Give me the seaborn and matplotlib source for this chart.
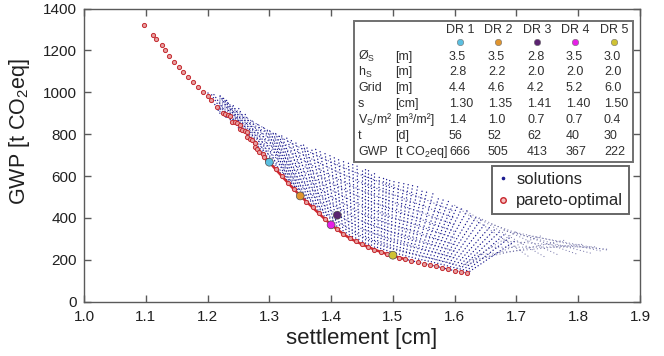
import numpy as np
import pandas as pd
import matplotlib
matplotlib.use("Agg")
import matplotlib.pyplot as plt
from matplotlib.patches import Rectangle
from matplotlib.lines import Line2D
import seaborn as sns

# ---------------- data ----------------
# pareto-optimal front (settlement [cm], GWP [t CO2eq])
front_x = [1.097, 1.112, 1.117, 1.126, 1.131, 1.138, 1.145, 1.153, 1.161, 1.169,
           1.177, 1.185, 1.193, 1.200, 1.206, 1.215,
           1.225, 1.229, 1.233, 1.237, 1.240, 1.244, 1.248, 1.252,
           1.252, 1.256, 1.260, 1.264, 1.264, 1.268, 1.272, 1.277,
           1.276, 1.280, 1.284, 1.289, 1.292, 1.296,
           1.30, 1.31, 1.32, 1.33, 1.34, 1.35, 1.36, 1.37, 1.38, 1.39,
           1.40, 1.41, 1.42, 1.43, 1.44, 1.45, 1.46, 1.47, 1.48, 1.49,
           1.50, 1.51, 1.52, 1.53, 1.54, 1.55, 1.56, 1.57, 1.58, 1.59,
           1.60, 1.61, 1.62]
front_y = [1320, 1273, 1252, 1225, 1201, 1175, 1146, 1122, 1098, 1074,
           1050, 1026, 1002, 982, 963, 931,
           900, 896, 891, 886, 860, 856, 851, 844,
           823, 819, 814, 808, 785, 778, 770, 760,
           738, 728, 716, 703, 690, 678,
           666, 633, 600, 568, 536, 506, 478, 450, 422, 394,
           368, 345, 323, 303, 288, 274, 261, 249, 238, 228,
           219, 211, 203, 196, 188, 182, 176, 169, 162, 154,
           148, 142, 136]

# fan of solutions: start point on the front, end point on the outer envelope
ray_x0 = [1.22, 1.23, 1.24, 1.25, 1.26, 1.27, 1.28, 1.29, 1.30, 1.31, 1.32, 1.33,
          1.34, 1.35, 1.36, 1.37, 1.38, 1.39, 1.40, 1.41, 1.42, 1.43, 1.44, 1.45,
          1.46, 1.47, 1.48, 1.49, 1.50, 1.51, 1.52, 1.53, 1.54, 1.55, 1.56, 1.57,
          1.58, 1.59, 1.60, 1.61, 1.62]
ray_y0 = [900, 880, 855, 830, 808, 770, 725, 695, 666, 633, 600, 568,
          536, 506, 478, 450, 422, 394, 368, 345, 323, 303, 288, 274,
          261, 249, 238, 228, 219, 211, 203, 196, 188, 182, 176, 169,
          162, 154, 148, 142, 136]
ray_x1 = [1.200, 1.205, 1.210, 1.220, 1.225, 1.230, 1.240, 1.250, 1.260, 1.270, 1.280, 1.290,
          1.300, 1.310, 1.320, 1.335, 1.350, 1.360, 1.375, 1.390, 1.405, 1.420, 1.435, 1.450,
          1.460, 1.470, 1.485, 1.495, 1.510, 1.525, 1.540, 1.555, 1.575, 1.590, 1.605, 1.620,
          1.635, 1.650, 1.665, 1.680, 1.700]
ray_y1 = [1000, 995, 990, 985, 975, 965, 945, 925, 900, 875, 855, 835,
          820, 805, 792, 775, 760, 745, 728, 710, 690, 672, 655, 640,
          628, 615, 600, 590, 580, 565, 550, 530, 505, 480, 460, 435,
          405, 375, 345, 320, 295]

# further solution rays in between
ray2_x0 = [1.335, 1.345, 1.355, 1.365, 1.375, 1.385, 1.395, 1.405, 1.415, 1.425,
           1.435, 1.445, 1.455, 1.465, 1.475, 1.485, 1.495, 1.505, 1.515, 1.525,
           1.535, 1.545, 1.555, 1.565, 1.575, 1.585, 1.595, 1.605, 1.615]
ray2_y0 = [552, 521, 492, 464, 436, 408, 381, 356, 334, 313,
           295, 281, 267, 255, 243, 233, 223, 215, 207, 199,
           192, 185, 179, 172, 165, 158, 151, 145, 139]
ray2_x1 = [1.295, 1.305, 1.315, 1.328, 1.342, 1.355, 1.368, 1.382, 1.398, 1.412,
           1.428, 1.442, 1.455, 1.465, 1.478, 1.490, 1.502, 1.518, 1.532, 1.548,
           1.565, 1.582, 1.598, 1.612, 1.628, 1.642, 1.658, 1.672, 1.690]
ray2_y1 = [828, 812, 798, 783, 768, 752, 736, 719, 700, 681,
           663, 647, 634, 621, 607, 595, 585, 572, 557, 540,
           518, 492, 470, 448, 420, 390, 360, 332, 308]

# curves running across the fan, roughly parallel to the front
band_x = [1.22, 1.26, 1.30, 1.35, 1.40, 1.45, 1.50, 1.55, 1.60]
band_y = [
    [909, 816, 682, 531, 401, 311, 256, 216, 179],
    [918, 824, 699, 557, 434, 347, 292, 251, 210],
    [927, 833, 715, 582, 468, 384, 329, 285, 242],
    [936, 841, 732, 608, 501, 420, 365, 319, 273],
    [945, 849, 748, 633, 534, 457, 402, 354, 304],
    [954, 857, 764, 658, 567, 494, 439, 388, 335],
    [963, 865, 781, 684, 600, 530, 475, 422, 366],
    [972, 874, 797, 709, 634, 567, 512, 456, 398],
    [981, 882, 814, 735, 667, 603, 548, 491, 429],
]

# sparse outer part of the solution cloud
far_x0 = [1.60, 1.62, 1.64, 1.66, 1.68, 1.70, 1.72,
          1.60, 1.62, 1.63, 1.64, 1.66, 1.68]
far_y0 = [460, 430, 400, 370, 340, 330, 315,
          150, 175, 200, 225, 260, 290]
far_x1 = [1.72, 1.745, 1.77, 1.80, 1.82, 1.84, 1.85,
          1.70, 1.74, 1.78, 1.81, 1.83, 1.85]
far_y1 = [215, 215, 220, 225, 232, 240, 245,
          335, 315, 295, 275, 262, 250]

# selected design recommendations
dr_names = ["DR 1", "DR 2", "DR 3", "DR 4", "DR 5"]
dr_x = [1.30, 1.35, 1.41, 1.40, 1.50]
dr_y = [666, 505, 413, 367, 222]
dr_colors = ["#5bbfe0", "#e0952f", "#5b2371", "#e61ee6", "#cfc233"]

row_labels = ["Ø$_\\mathregular{S}$", "h$_\\mathregular{S}$", "Grid", "s",
              "V$_\\mathregular{S}$/m²", "t", "GWP"]
row_units = ["[m]", "[m]", "[m]", "[cm]", "[m³/m²]", "[d]", "[t CO$_\\mathregular{2}$eq]"]
table_vals = [
    ["3.5", "3.5", "2.8", "3.5", "3.0"],
    ["2.8", "2.2", "2.0", "2.0", "2.0"],
    ["4.4", "4.6", "4.2", "5.2", "6.0"],
    ["1.30", "1.35", "1.41", "1.40", "1.50"],
    ["1.4", "1.0", "0.7", "0.7", "0.4"],
    ["56", "52", "62", "40", "30"],
    ["666", "505", "413", "367", "222"],
]

x_ticks = [1.0, 1.1, 1.2, 1.3, 1.4, 1.5, 1.6, 1.7, 1.8, 1.9]
y_ticks = [0, 200, 400, 600, 800, 1000, 1200, 1400]

# ---------------- style ----------------
sns.set_style("ticks")
plt.rcParams["font.family"] = ["Liberation Sans", "DejaVu Sans"]
plt.rcParams["mathtext.fontset"] = "custom"
plt.rcParams["mathtext.rm"] = "Liberation Sans"

W, H = 664, 356
fig = plt.figure(figsize=(W / 100, H / 100), dpi=100)
ax = fig.add_axes([84 / W, 1 - 301.7 / H, (640 - 84) / W, (301.7 - 8.5) / H])

spine_c = "#5a5a5a"
for s in ax.spines.values():
    s.set_color(spine_c)
    s.set_linewidth(1.0)

ray_c = "#1c1c90"
for xs0, ys0, xs1, ys1 in [(ray_x0, ray_y0, ray_x1, ray_y1),
                           (ray2_x0, ray2_y0, ray2_x1, ray2_y1)]:
    for x0, y0, x1, y1 in zip(xs0, ys0, xs1, ys1):
        ax.plot([x0, x1], [y0, y1], color=ray_c, lw=1.0, ls=(0, (0.1, 2.3)),
                dash_capstyle="round", alpha=1.0, zorder=2)
for by in band_y:
    ax.plot(band_x, by, color=ray_c, lw=0.9, ls=(0, (0.1, 2.5)),
            dash_capstyle="round", alpha=0.75, zorder=2)
for x0, y0, x1, y1 in zip(far_x0, far_y0, far_x1, far_y1):
    ax.plot([x0, x1], [y0, y1], color="#5a5a98", lw=0.85, ls=(0, (0.1, 2.8)),
            dash_capstyle="round", alpha=0.8, zorder=2)

front = pd.DataFrame({"settlement": front_x, "GWP": front_y})
dense = front[(front.settlement >= 1.29) & (front.settlement <= 1.52)]
ax.plot(dense.settlement, dense.GWP, color="#d02a30", lw=1.8, zorder=3)
sns.scatterplot(data=front, x="settlement", y="GWP", ax=ax, marker="o", s=9,
                color="#e8a0a0", edgecolor="#c42a30", linewidth=0.7, zorder=4)

dr = pd.DataFrame({"settlement": dr_x, "GWP": dr_y, "DR": dr_names})
sns.scatterplot(data=dr, x="settlement", y="GWP", hue="DR", palette=dr_colors,
                ax=ax, s=32, edgecolor="#505050", linewidth=0.5, zorder=5, legend=False)

ax.set_xlim(1.0, 1.9)
ax.set_ylim(0, 1400)
ax.set_xticks(x_ticks)
ax.set_xticklabels([f"{v:.1f}" for v in x_ticks])
ax.set_yticks(y_ticks)
ax.tick_params(direction="in", length=5, width=1.0, color=spine_c,
               top=True, right=True, labelsize=11, labelcolor="#202020")
ax.tick_params(axis="x", pad=6)
ax.tick_params(axis="y", pad=5)
ax.set_xlabel("settlement [cm]", fontsize=16, color="#202020", labelpad=3)
ax.set_ylabel("GWP [t CO$_\\mathregular{2}$eq]", fontsize=15.5, color="#202020")
ax.yaxis.set_label_coords(-0.094, 0.58)

# legend
handles = [Line2D([], [], ls="none", marker="o", ms=1.6, color=ray_c),
           Line2D([], [], ls="none", marker="o", ms=4, mfc="#f5c0c0", mec="#c8262c", mew=1.0)]
leg = ax.legend(handles, ["solutions", "pareto-optimal"], loc="upper left",
                bbox_to_anchor=(492 / W, 1 - 166 / H), bbox_transform=fig.transFigure,
                fontsize=12, frameon=True, fancybox=False, handlelength=0.6,
                handletextpad=0.5, borderpad=0.35, labelspacing=0.4, borderaxespad=0)
leg.get_frame().set_edgecolor("#404040")
leg.get_frame().set_linewidth(1.4)
leg.set_zorder(10)

# table overlay in pixel coordinates
ov = fig.add_axes([0, 0, 1, 1], facecolor="none")
ov.set_xlim(0, W)
ov.set_ylim(H, 0)
ov.axis("off")
ov.add_patch(Rectangle((354, 21), 633 - 354, 162 - 21, facecolor="white",
                       edgecolor="#707070", lw=1.4, zorder=1))
col_x = [449, 488, 527, 566, 604]
circ_x = [460, 498, 537, 575, 614]
row_y = [56.7, 72.3, 88, 104, 120, 136, 152]
tc = "#303030"
fs = 9
for i, name in enumerate(dr_names):
    ov.text(circ_x[i], 30, name, ha="center", va="center", fontsize=fs, color=tc, zorder=2)
    ov.plot(circ_x[i], 41.7, "o", ms=4.6, color=dr_colors[i], mec="#707070", mew=0.4, zorder=2)
for r, (lab, unit) in enumerate(zip(row_labels, row_units)):
    ov.text(358, row_y[r], lab, ha="left", va="center", fontsize=fs, color=tc, zorder=2)
    ov.text(395, row_y[r], unit, ha="left", va="center", fontsize=fs, color=tc, zorder=2)
    for c in range(5):
        ov.text(col_x[c], row_y[r], table_vals[r][c], ha="left", va="center",
                fontsize=fs, color=tc, zorder=2)

fig.savefig("out.png", dpi=100)
